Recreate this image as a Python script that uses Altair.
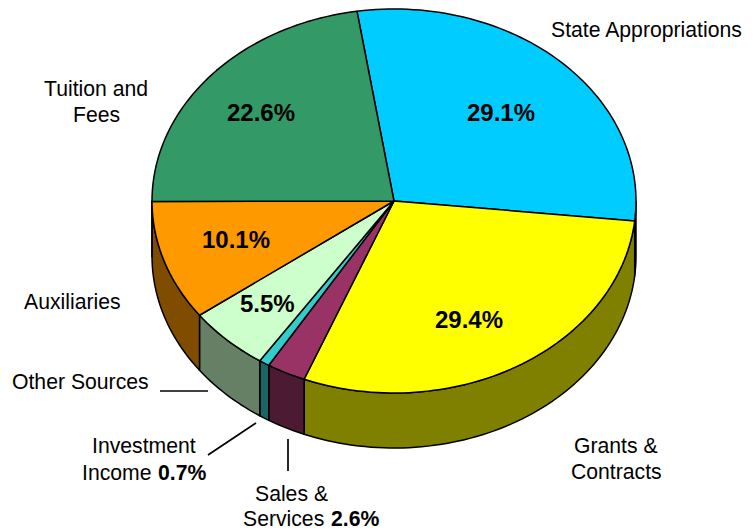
import math
import altair as alt
import pandas as pd

# Chart values
names = ["State Appropriations", "Grants & Contracts", "Sales & Services", "Investment Income",
         "Other Sources", "Auxiliaries", "Tuition and Fees"]
shares = [29.1, 29.4, 2.6, 0.7, 5.5, 10.1, 22.6]
top_colors = ["#00CCFF", "#FFFF00", "#993366", "#33CCCC", "#CCFFCC", "#FF9900", "#339966"]
side_colors = ["#006680", "#808000", "#4D1A33", "#1A6666", "#668066", "#804D00", "#1A4D33"]

# Page-pixel geometry of the tilted pie (reference coordinates minus the 8px margin)
OFF = 8
CX, CY, RX, RY, DEPTH, START = 394 - OFF, 201 - OFF, 242, 192, 55, -8.8
W, H = 738, 523


def pt(t, dy=0):
    r = math.radians(t)
    return CX + RX * math.sin(r), CY - RY * math.cos(r) + dy


def arc(t0, t1):
    n = max(2, int(abs(t1 - t0) / 1.5) + 1)
    return [t0 + (t1 - t0) * i / n for i in range(n + 1)]


side_rows, top_rows = [], []
t = START
for k, (name, s) in enumerate(zip(names, shares)):
    t2 = t + s * 3.6
    a, b = max(t, 90), min(t2, 270)
    if a < b:
        poly = [pt(u) for u in arc(a, b)] + [pt(u, DEPTH) for u in arc(b, a)]
        poly.append(poly[0])
        side_rows += [{"p": f"{k}s", "i": i, "x": x, "y": y, "c": side_colors[k]} for i, (x, y) in enumerate(poly)]
    poly = [(CX, CY)] + [pt(u) for u in arc(t, t2)] + [(CX, CY)]
    top_rows += [{"p": f"{k}t", "i": i, "x": x, "y": y, "c": top_colors[k]} for i, (x, y) in enumerate(poly)]
    t = t2

x_enc = alt.X("x:Q", scale=alt.Scale(domain=[0, W], range=[0, W]), axis=None)
y_enc = alt.Y("y:Q", scale=alt.Scale(domain=[0, H], range=[0, H]), axis=None)

layers = []
for rows in (side_rows, top_rows):
    for p in dict.fromkeys(r["p"] for r in rows):
        sub = pd.DataFrame([r for r in rows if r["p"] == p])
        layers.append(
            alt.Chart(sub).mark_line(filled=True, stroke="black", strokeWidth=1.5, strokeJoin="round", interpolate="linear").encode(
                x=x_enc, y=y_enc, order="i:Q", fill=alt.Fill("c:N", scale=None)
            )
        )

# Leader lines
leaders = pd.DataFrame([
    {"x": 160 - OFF, "y": 391 - OFF, "x2": 208 - OFF, "y2": 391 - OFF},
    {"x": 208 - OFF, "y": 455 - OFF, "x2": 256 - OFF, "y2": 423 - OFF},
    {"x": 288 - OFF, "y": 439 - OFF, "x2": 288 - OFF, "y2": 471 - OFF},
])
layers.append(alt.Chart(leaders).mark_rule(color="black", strokeWidth=1.7).encode(x=x_enc, y=y_enc, x2="x2:Q", y2="y2:Q"))

# Text
FONT = "Liberation Sans"
plain = [
    ("State Appropriations", 551, 37), ("Tuition and", 44, 96), ("Fees", 73, 122),
    ("Auxiliaries", 24, 309), ("Other Sources", 12, 389), ("Investment", 92, 453),
    ("Income", 82, 480), ("Sales &", 255, 501), ("Services", 243, 526),
    ("Grants &", 574, 453), ("Contracts", 571, 479),
]
bold_small = [("0.7%", 158, 480), ("2.6%", 331, 526)]
bold_big = [("22.6%", 227, 121), ("29.1%", 467, 121), ("10.1%", 202, 248),
            ("5.5%", 240, 312), ("29.4%", 435, 328)]


def text_layer(items, size, weight):
    df = pd.DataFrame([{"t": a, "x": x - OFF, "y": y - OFF} for a, x, y in items])
    return alt.Chart(df).mark_text(font=FONT, fontSize=size, fontWeight=weight, align="left",
                                   baseline="alphabetic", color="black").encode(x=x_enc, y=y_enc, text="t:N")


layers += [text_layer(plain, 21.2, "normal"), text_layer(bold_small, 21.2, "bold"), text_layer(bold_big, 24, "bold")]

chart = alt.layer(*layers).properties(
    width=W, height=H, padding=0, autosize=alt.AutoSizeParams(type="none"),
).configure_view(stroke=None)
chart.save("out.html", embed_options={"renderer": "svg", "actions": False})
